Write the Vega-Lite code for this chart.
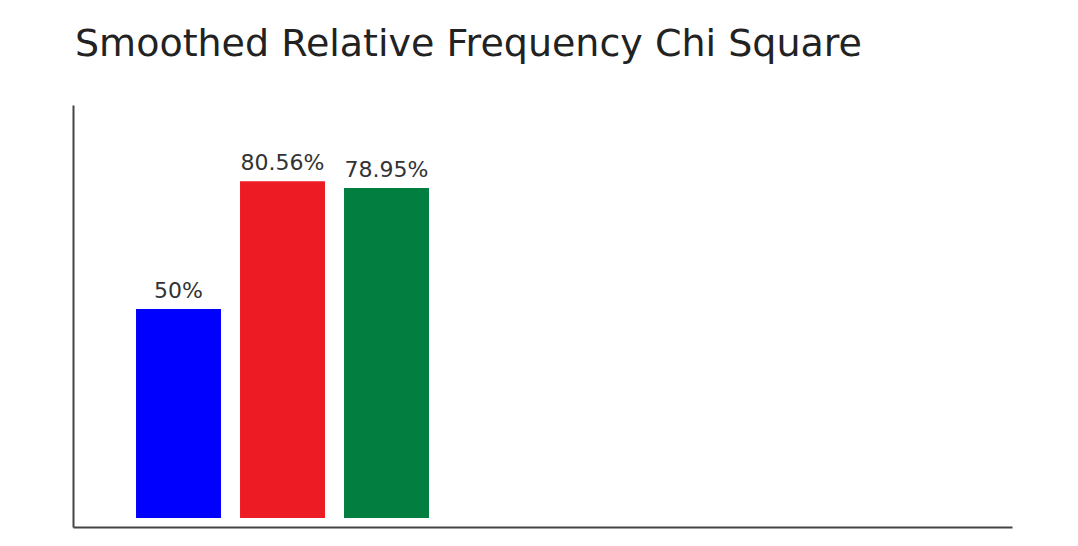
{
  "$schema": "https://vega.github.io/schema/vega-lite/v6.json",
  "width": 939,
  "height": 422,
  "autosize": "none",
  "padding": {"left": 73, "top": 105, "right": 66, "bottom": 19},
  "background": "white",
  "config": {"view": {"stroke": null}},
  "title": {
    "text": "Smoothed Relative Frequency Chi Square",
    "anchor": "start",
    "font": "DejaVu Sans",
    "fontSize": 38,
    "fontWeight": "normal",
    "color": "#222222",
    "baseline": "alphabetic",
    "offset": 11,
    "dx": 2
  },
  "data": {
    "values": [
      {"category": "A", "value": 50, "label": "50%"},
      {"category": "B", "value": 80.56, "label": "80.56%"},
      {"category": "C", "value": 78.95, "label": "78.95%"}
    ]
  },
  "encoding": {
    "x": {
      "field": "category",
      "type": "nominal",
      "scale": {"domain": ["A", "B", "C", "d1", "d2", "d3", "d4", "d5"], "paddingInner": 0.183, "paddingOuter": 0.606, "align": 0.5},
      "axis": {"title": null, "labels": false, "ticks": false, "domainColor": "#444444", "domainWidth": 2, "grid": false}
    },
    "y": {
      "field": "value",
      "type": "quantitative",
      "scale": {"domain": [-2.15, 98.8], "nice": false, "zero": false},
      "axis": {"title": null, "labels": false, "ticks": false, "grid": false, "domainColor": "#444444", "domainWidth": 2}
    }
  },
  "layer": [
    {
      "mark": {"type": "bar"},
      "encoding": {
        "y2": {"datum": 0},
        "color": {
          "field": "category",
          "type": "nominal",
          "scale": {"domain": ["A", "B", "C"], "range": ["#0000FF", "#ED1C24", "#017E40"]},
          "legend": null
        }
      }
    },
    {
      "mark": {"type": "text", "baseline": "alphabetic", "dy": -11, "font": "DejaVu Sans", "fontSize": 22, "color": "#333333"},
      "encoding": {"text": {"field": "label"}}
    }
  ]
}
